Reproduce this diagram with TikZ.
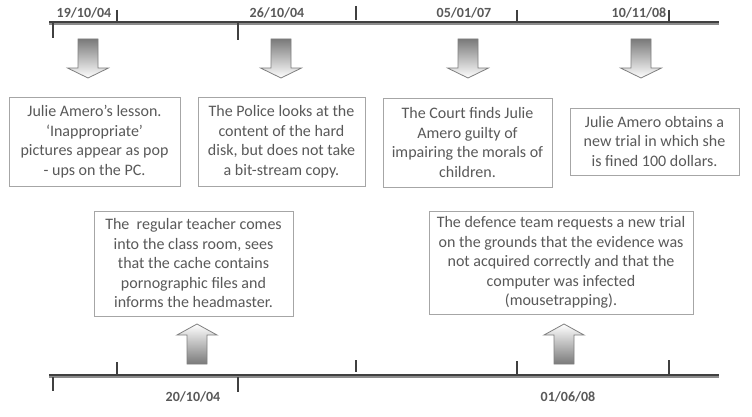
\documentclass[tikz,border=0pt]{standalone}
\usepackage{fontspec}
\setmainfont{Carlito}
\definecolor{txt}{HTML}{595959}
\definecolor{boxline}{HTML}{A6A6A6}
\definecolor{tl}{HTML}{404040}
\definecolor{tllight}{HTML}{8C8C8C}
\definecolor{arrline}{HTML}{7F7F7F}
\definecolor{arrdark}{HTML}{7A7A7A}
\begin{document}
\begin{tikzpicture}[x=1pt,y=-1pt,
  evbox/.style={draw=boxline,line width=0.9pt,fill=white,align=center,text=txt,
    font=\fontsize{16}{19.5}\selectfont,inner sep=0pt,anchor=center},
  datelbl/.style={text=txt,font=\fontsize{14}{16}\selectfont\bfseries,inner sep=0pt},
  tick/.style={draw=tl,line width=1.6pt},
  downarr/.style={draw=arrline,line width=0.8pt,top color=arrdark,bottom color=white,shading angle=0},
  uparr/.style={draw=arrline,line width=0.8pt,top color=white,bottom color=arrdark}
]
\useasboundingbox (0,0) rectangle (752,417);

% ---------- top timeline ----------
\coordinate (ta) at (49,22);
\coordinate (tb) at (719,22);
\draw[tllight,line width=3.4pt] ([yshift=-1pt]ta) -- ([yshift=-1pt]tb);
\draw[tl,line width=1.8pt] ([yshift=0.3pt]ta) -- ([yshift=0.3pt]tb);
\draw[tick] (117,10) -- (117,22);
\draw[tick] (356,6) -- (356,20);
\draw[tick] (517,10) -- (517,21);
\draw[tick] (669,10) -- (669,21);
\draw[tick] (53,23) -- (53,38);
\draw[tick] (238,23) -- (238,40);

\node[datelbl] (d1) at (84,13) {19/10/04};
\node[datelbl] (d2) at (277,13) {26/10/04};
\node[datelbl] (d3) at (464,13) {05/01/07};
\node[datelbl] (d4) at (639,13) {10/11/08};

% ---------- down arrows ----------
\foreach \cx in {88,281,468,641}{
  \path[downarr] (\cx-10,39) -- (\cx+10,39) -- (\cx+10,68) -- (\cx+20.5,68)
     -- (\cx,78) -- (\cx-20.5,68) -- (\cx-10,68) -- cycle;
}

% ---------- top boxes ----------
\node[evbox,minimum width=171pt,minimum height=89pt] (b1) at (94.5,141.5)
  {Julie Amero’s lesson.\\‘Inappropriate’\\pictures appear as pop\\- ups on the PC.};
\node[evbox,minimum width=167pt,minimum height=89pt] (b2) at (281.5,141.5)
  {The Police looks at the\\content of the hard\\disk, but does not take\\a bit-stream copy.};
\node[evbox,minimum width=169pt,minimum height=89pt] (b3) at (467.5,142.5)
  {The Court finds Julie\\Amero guilty of\\impairing the morals of\\children.};
\node[evbox,minimum width=169pt,minimum height=67pt] (b4) at (654.5,141.5)
  {Julie Amero obtains a\\new trial in which she\\is fined 100 dollars.};

% ---------- bottom boxes ----------
\node[evbox,minimum width=199pt,minimum height=105pt] (b5) at (193.5,263.5)
  {The \ regular teacher comes\\into the class room, sees\\that the cache contains\\pornographic files and\\informs the headmaster.};
\node[evbox,minimum width=264pt,minimum height=103pt] (b6) at (561,262.5)
  {The defence team requests a new trial\\on the grounds that the evidence was\\not acquired correctly and that the\\computer was infected\\(mousetrapping).};

% ---------- up arrows ----------
\foreach \cx in {197,564}{
  \path[uparr] (\cx-10,364) -- (\cx+10,364) -- (\cx+10,335) -- (\cx+20,335)
     -- (\cx,324) -- (\cx-20,335) -- (\cx-10,335) -- cycle;
}

% ---------- bottom timeline ----------
\coordinate (ba) at (49,375);
\coordinate (bb) at (719,375);
\draw[tllight,line width=3.4pt] ([yshift=-1pt]ba) -- ([yshift=-1pt]bb);
\draw[tl,line width=1.8pt] ([yshift=0.3pt]ba) -- ([yshift=0.3pt]bb);
\draw[tick] (117,362) -- (117,375);
\draw[tick] (356,360) -- (356,372);
\draw[tick] (517,361) -- (517,374);
\draw[tick] (669,360) -- (669,374);
\draw[tick] (53,377) -- (53,391);
\draw[tick] (238,377) -- (238,392);

\node[datelbl] (d5) at (193,397) {20/10/04};
\node[datelbl] (d6) at (568,397) {01/06/08};
\end{tikzpicture}
\end{document}
